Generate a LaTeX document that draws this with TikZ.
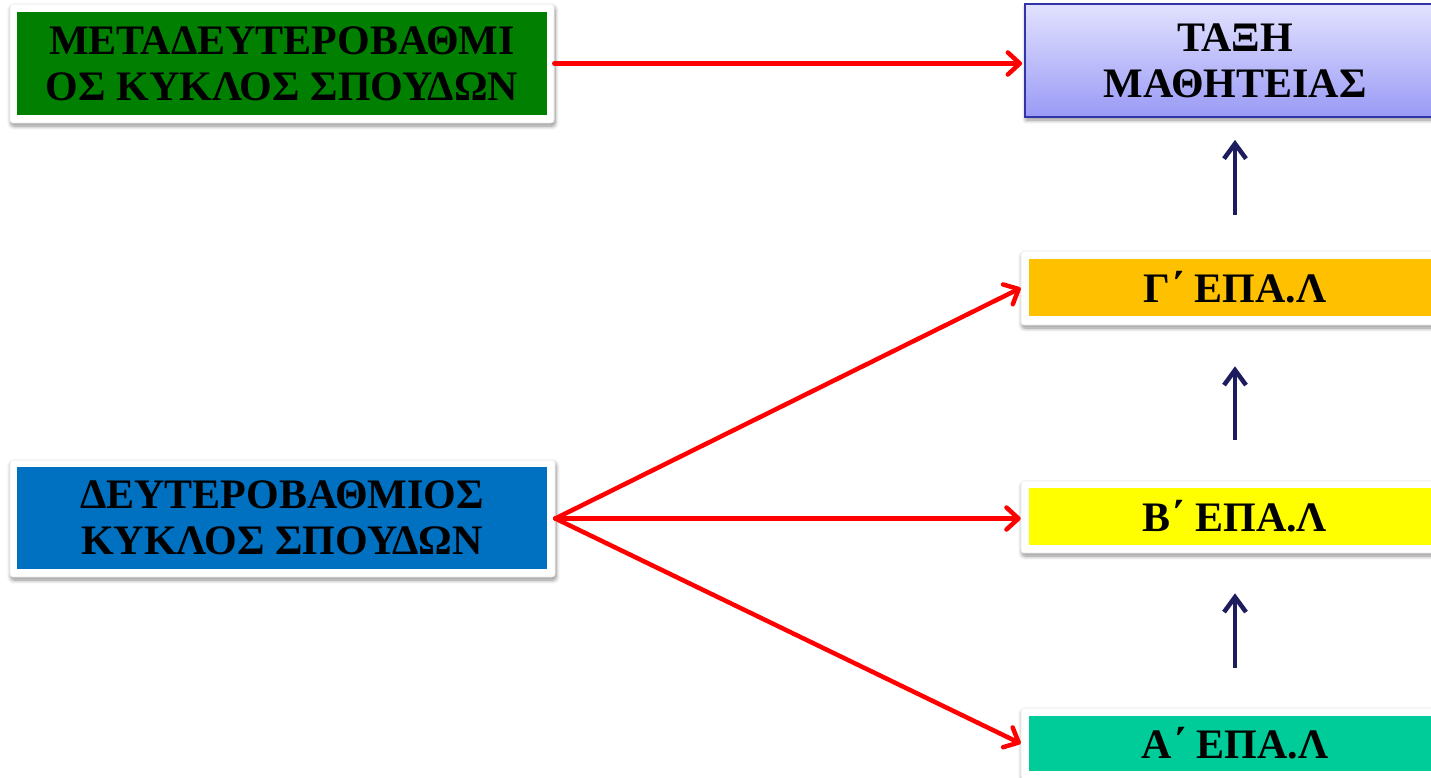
\documentclass[tikz,border=0pt]{standalone}
\usepackage{fontspec}
\setmainfont{Liberation Serif}
\usetikzlibrary{arrows.meta,shadows,shadows.blur}
\definecolor{grnbox}{HTML}{007F00}
\definecolor{bluebox}{HTML}{0070C0}
\definecolor{orangebox}{HTML}{FFC000}
\definecolor{yellowbox}{HTML}{FFFF00}
\definecolor{tealbox}{HTML}{00CC99}
\definecolor{navyarrow}{HTML}{1C1C5E}
\definecolor{lavtop}{HTML}{E2E2FF}
\definecolor{lavbot}{HTML}{9A9AF6}
\definecolor{lavborder}{HTML}{3333AA}
\begin{document}
\begin{tikzpicture}[x=1pt,y=-1pt,
  frame/.style={fill=white,draw=black!8,line width=0.6pt,inner sep=0pt,rounded corners=3pt,
    blur shadow={shadow xshift=1pt,shadow yshift=-3pt,shadow blur steps=8,shadow blur radius=4pt,shadow opacity=45}},
  inner/.style={draw=none,inner sep=0pt,align=center,text=black,
    font=\fontsize{42}{46}\selectfont\bfseries},
  redarrow/.style={draw=red,line width=4.5pt,line cap=round,
    -{Straight Barb[length=12pt,width=22pt,line width=4.5pt,round]}},
  navyar/.style={draw=navyarrow,line width=4.5pt,
    -{Straight Barb[length=15pt,width=22pt,line width=4.5pt]}}
]
\useasboundingbox (0,0) rectangle (1431,777);

% green
\node[frame,minimum width=544pt,minimum height=119pt] (gf) at (282,63.5) {};
\node[inner,fill=grnbox,minimum width=530pt,minimum height=103pt] (g) at (282,63.5) {ΜΕΤΑΔΕΥΤΕΡΟΒΑΘΜΙ\\ΟΣ ΚΥΚΛΟΣ ΣΠΟΥΔΩΝ};

% blue
\node[frame,minimum width=545pt,minimum height=117pt] (bf) at (282.5,518.5) {};
\node[inner,fill=bluebox,minimum width=530pt,minimum height=102pt] (b) at (282,518) {ΔΕΥΤΕΡΟΒΑΘΜΙΟΣ\\ΚΥΚΛΟΣ ΣΠΟΥΔΩΝ};

% taxi
\node[inner,draw=lavborder,line width=1.8pt,top color=lavtop,bottom color=lavbot,
  minimum width=420pt,minimum height=113pt,
  blur shadow={shadow xshift=1pt,shadow yshift=-3pt,shadow blur steps=8,shadow blur radius=4pt,shadow opacity=45}] (t) at (1235,60.5) {ΤΑΞΗ\\ΜΑΘΗΤΕΙΑΣ};

% Gamma
\node[frame,minimum width=428pt,minimum height=74pt] (cf) at (1235,288) {};
\node[inner,fill=orangebox,minimum width=412pt,minimum height=57pt] (c) at (1235,287.5) {Γ΄ ΕΠΑ.Λ};

% Beta
\node[frame,minimum width=428pt,minimum height=72pt] (vf) at (1235,517) {};
\node[inner,fill=yellowbox,minimum width=412pt,minimum height=57pt] (v) at (1235,516.5) {Β΄ ΕΠΑ.Λ};

% Alpha
\node[frame,minimum width=428pt,minimum height=71pt] (af) at (1235,743.5) {};
\node[inner,fill=tealbox,minimum width=412pt,minimum height=55pt] (a) at (1235,743.5) {Α΄ ΕΠΑ.Λ};

% red arrows
\draw[redarrow,shorten >=2pt] (gf.east) -- (gf.east -| t.west);
\coordinate (bs) at (bf.east);
\draw[redarrow] (bs) -- (cf.west);
\draw[redarrow] (bs) -- (bs -| vf.west);
\draw[redarrow] (bs) -- (af.west);

% navy arrows
\draw[navyar,shorten <=36pt,shorten >=22pt] (cf.north) -- (t.south);
\draw[navyar,shorten <=41pt,shorten >=41pt] (vf.north) -- (cf.south);
\draw[navyar,shorten <=40pt,shorten >=40pt] (af.north) -- (vf.south);
\end{tikzpicture}
\end{document}
